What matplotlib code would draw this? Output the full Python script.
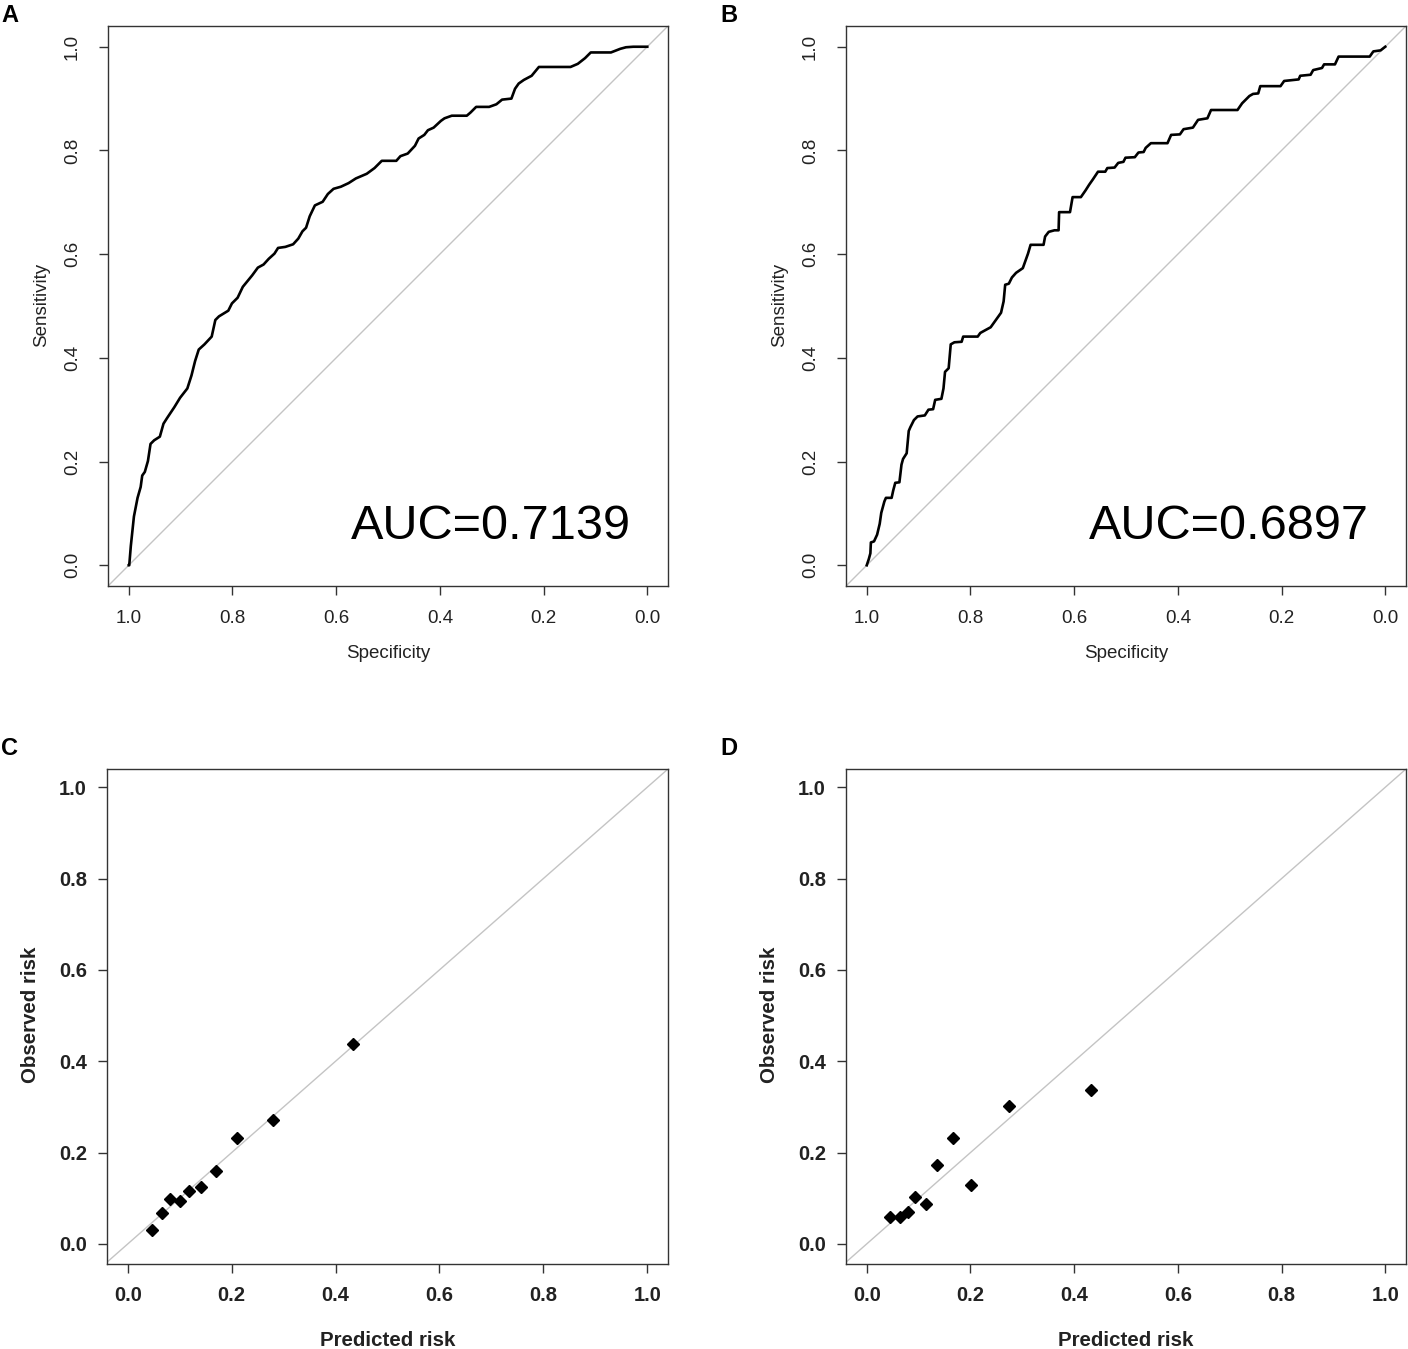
import matplotlib
matplotlib.use("Agg")
import matplotlib.pyplot as plt

plt.rcParams['font.family'] = ['Liberation Sans', 'DejaVu Sans']

# ---------------- data ----------------
roc_a_spec = [1.000, 0.999, 0.996, 0.990, 0.983, 0.977, 0.974, 0.969, 0.963, 0.958, 0.951, 0.940,
              0.933, 0.926, 0.912, 0.901, 0.887, 0.879, 0.872, 0.865, 0.854, 0.840, 0.833, 0.826,
              0.808, 0.801, 0.790, 0.780, 0.762, 0.751, 0.740, 0.730, 0.719, 0.712, 0.698, 0.683,
              0.673, 0.665, 0.658, 0.651, 0.641, 0.626, 0.616, 0.605, 0.591, 0.576, 0.562, 0.541,
              0.526, 0.512, 0.484, 0.476, 0.462, 0.448, 0.441, 0.430, 0.423, 0.412, 0.398, 0.391,
              0.377, 0.348, 0.341, 0.330, 0.305, 0.291, 0.280, 0.262, 0.255, 0.248, 0.238, 0.223,
              0.209, 0.148, 0.134, 0.120, 0.109, 0.070, 0.052, 0.041, 0.027, 0.000]
roc_a_sens = [0.000, 0.000, 0.037, 0.094, 0.130, 0.151, 0.173, 0.180, 0.201, 0.234, 0.241, 0.248,
              0.273, 0.284, 0.305, 0.323, 0.341, 0.366, 0.394, 0.416, 0.426, 0.441, 0.473, 0.480,
              0.491, 0.505, 0.516, 0.537, 0.559, 0.574, 0.580, 0.591, 0.601, 0.612, 0.614, 0.619,
              0.630, 0.644, 0.651, 0.673, 0.694, 0.701, 0.716, 0.726, 0.730, 0.737, 0.746, 0.755,
              0.766, 0.780, 0.780, 0.789, 0.794, 0.809, 0.823, 0.830, 0.839, 0.844, 0.857, 0.862,
              0.867, 0.867, 0.873, 0.884, 0.884, 0.889, 0.898, 0.900, 0.919, 0.929, 0.936, 0.944,
              0.961, 0.961, 0.967, 0.978, 0.989, 0.989, 0.996, 0.999, 1.000, 1.000]
auc_a = "AUC=0.7139"

roc_b_spec = [1.000, 0.996, 0.993, 0.992, 0.986, 0.980, 0.975, 0.972, 0.966, 0.963, 0.952, 0.949,
              0.945, 0.937, 0.933, 0.930, 0.923, 0.919, 0.916, 0.909, 0.902, 0.888, 0.881, 0.872,
              0.868, 0.856, 0.852, 0.849, 0.842, 0.838, 0.831, 0.817, 0.814, 0.786, 0.781, 0.772,
              0.761, 0.751, 0.741, 0.736, 0.733, 0.726, 0.720, 0.712, 0.699, 0.694, 0.689, 0.684,
              0.659, 0.656, 0.649, 0.638, 0.630, 0.629, 0.608, 0.603, 0.587, 0.578, 0.571, 0.564,
              0.554, 0.540, 0.536, 0.522, 0.515, 0.505, 0.501, 0.483, 0.476, 0.466, 0.462, 0.452,
              0.420, 0.413, 0.396, 0.389, 0.371, 0.361, 0.343, 0.336, 0.285, 0.276, 0.262, 0.255,
              0.245, 0.241, 0.202, 0.195, 0.167, 0.164, 0.144, 0.139, 0.122, 0.118, 0.097, 0.090,
              0.030, 0.023, 0.009, 0.000]
roc_b_sens = [0.000, 0.012, 0.023, 0.044, 0.046, 0.059, 0.080, 0.101, 0.123, 0.130, 0.130, 0.144,
              0.159, 0.160, 0.194, 0.205, 0.216, 0.259, 0.266, 0.280, 0.287, 0.289, 0.300, 0.301,
              0.319, 0.321, 0.341, 0.373, 0.380, 0.426, 0.430, 0.431, 0.441, 0.441, 0.448, 0.453,
              0.459, 0.473, 0.487, 0.509, 0.541, 0.543, 0.555, 0.564, 0.573, 0.587, 0.601, 0.618,
              0.618, 0.634, 0.643, 0.646, 0.646, 0.681, 0.681, 0.710, 0.710, 0.723, 0.734, 0.744,
              0.759, 0.759, 0.766, 0.767, 0.776, 0.778, 0.786, 0.787, 0.796, 0.797, 0.805, 0.814,
              0.814, 0.830, 0.831, 0.841, 0.844, 0.859, 0.862, 0.878, 0.878, 0.891, 0.905, 0.909,
              0.910, 0.924, 0.924, 0.934, 0.937, 0.944, 0.946, 0.955, 0.959, 0.966, 0.966, 0.981,
              0.981, 0.991, 0.993, 1.000]
auc_b = "AUC=0.6897"

cal_c_pred = [0.046, 0.065, 0.081, 0.100, 0.117, 0.141, 0.169, 0.211, 0.280, 0.434]
cal_c_obs = [0.030, 0.068, 0.098, 0.093, 0.116, 0.124, 0.159, 0.231, 0.272, 0.438]

cal_d_pred = [0.044, 0.065, 0.080, 0.094, 0.114, 0.136, 0.166, 0.202, 0.274, 0.432]
cal_d_obs = [0.059, 0.059, 0.070, 0.102, 0.087, 0.173, 0.231, 0.130, 0.302, 0.338]

ticks = [0.0, 0.2, 0.4, 0.6, 0.8, 1.0]
tick_labels = ["0.0", "0.2", "0.4", "0.6", "0.8", "1.0"]
panel_letters = ["A", "B", "C", "D"]

# ---------------- figure ----------------
W, H = 1408, 1349
fig = plt.figure(figsize=(W / 100, H / 100), dpi=100)


def box(l, t, r, b):
    return [l / W, 1 - b / H, (r - l) / W, (b - t) / H]


ax_a = fig.add_axes(box(108, 26, 668, 586))
ax_b = fig.add_axes(box(846, 26, 1406, 586))
ax_c = fig.add_axes(box(107, 769, 668, 1264))
ax_d = fig.add_axes(box(846, 769, 1406, 1264))

spine_col = '#333333'
diag_col = '#c4c4c4'


def style_common(ax):
    for s in ax.spines.values():
        s.set_color(spine_col)
        s.set_linewidth(1.0)
    ax.set_xticks(ticks)
    ax.set_yticks(ticks)


def roc_panel(ax, spec, sens, auc):
    style_common(ax)
    ax.set_xlim(1.04, -0.04)
    ax.set_ylim(-0.04, 1.04)
    ax.axline((1.0, 0.0), (0.0, 1.0), color=diag_col, lw=1.0, zorder=1)
    ax.plot(spec, sens, color='black', lw=1.9, zorder=3, solid_joinstyle='round')
    ax.set_xticklabels(tick_labels)
    ax.set_yticklabels(tick_labels, rotation=90, va='center')
    ax.tick_params(axis='both', direction='out', length=6.5, width=1.0, color=spine_col,
                   labelsize=13.5, labelcolor='#222222')
    ax.tick_params(axis='x', pad=11)
    ax.tick_params(axis='y', pad=13)
    ax.set_xlabel("Specificity", fontsize=13.5, color='#222222')
    ax.set_ylabel("Sensitivity", fontsize=13.5, color='#222222')
    ax.xaxis.set_label_coords(0.5, -0.12)
    ax.xaxis.label.set_va('center')
    ax.yaxis.set_label_coords(-0.118, 0.502)
    ax.yaxis.label.set_va('center')
    ax.text(0.031, 0.05, auc, fontsize=35, ha='right', va='baseline', color='black')


def cal_panel(ax, pred, obs):
    style_common(ax)
    ax.set_xlim(-0.04, 1.04)
    ax.set_ylim(-0.044, 1.04)
    ax.axline((0.0, 0.0), (1.0, 1.0), color=diag_col, lw=1.0, zorder=1)
    ax.plot(pred, obs, linestyle='none', marker='D', ms=6, color='black', zorder=3)
    ax.set_xticklabels(tick_labels, fontweight='bold')
    ax.set_yticklabels(tick_labels, fontweight='bold')
    ax.tick_params(axis='both', direction='out', length=6.5, width=1.0, color=spine_col,
                   labelsize=14.5, labelcolor='#222222')
    ax.tick_params(axis='x', pad=9)
    ax.tick_params(axis='y', pad=8)
    ax.set_xlabel("Predicted risk", fontsize=14.8, fontweight='bold', color='#222222')
    ax.set_ylabel("Observed risk", fontsize=14.8, fontweight='bold', color='#222222')
    ax.xaxis.set_label_coords(0.5, -0.154)
    ax.xaxis.label.set_va('center')
    ax.yaxis.set_label_coords(-0.137, 0.503)
    ax.yaxis.label.set_va('center')


roc_panel(ax_a, roc_a_spec, roc_a_sens, auc_a)
roc_panel(ax_b, roc_b_spec, roc_b_sens, auc_b)
cal_panel(ax_c, cal_c_pred, cal_c_obs)
cal_panel(ax_d, cal_d_pred, cal_d_obs)

letter_pos = [(1, 15), (720, 15), (1, 748), (720, 748)]
for letter, (px, py) in zip(panel_letters, letter_pos):
    fig.text(px / W, 1 - py / H, letter, fontsize=17, fontweight='bold',
             ha='left', va='center', color='black')

fig.savefig("out.png", dpi=100, facecolor='white')
